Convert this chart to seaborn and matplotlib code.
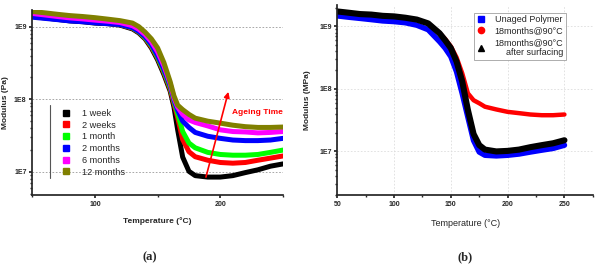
import numpy as np
import pandas as pd
import matplotlib
matplotlib.use('Agg')
import matplotlib.pyplot as plt
import matplotlib.ticker as mticker
from matplotlib.lines import Line2D
import seaborn as sns

# ---------------- data: panel (a) ageing series ----------------
temp_a = [50, 60, 70, 80, 90, 100, 110, 120, 130, 135, 140, 145, 150, 155, 160,
          163, 166, 170, 175, 180, 190, 200, 210, 220, 230, 240, 250]

week1 = [1.38e9, 1.32e9, 1.26e9, 1.20e9, 1.17e9, 1.12e9, 1.10e9, 1.05e9, 9.3e8, 8.2e8, 6.8e8,
         5.1e8, 3.5e8, 2.2e8, 1.3e8, 7.9e7, 3.8e7, 1.6e7, 1.02e7, 8.9e6, 8.5e6,
         8.5e6, 8.9e6, 9.8e6, 1.07e7, 1.2e7, 1.29e7]
weeks2 = [1.42e9, 1.35e9, 1.29e9, 1.23e9, 1.20e9, 1.15e9, 1.12e9, 1.07e9, 9.5e8, 8.4e8, 7.0e8,
          5.3e8, 3.7e8, 2.35e8, 1.38e8, 8.9e7, 5.6e7, 2.8e7, 1.9e7, 1.62e7, 1.45e7,
          1.35e7, 1.32e7, 1.35e7, 1.45e7, 1.55e7, 1.66e7]
month1 = [1.43e9, 1.36e9, 1.30e9, 1.24e9, 1.20e9, 1.15e9, 1.12e9, 1.08e9, 9.6e8, 8.5e8, 7.1e8,
          5.5e8, 3.8e8, 2.45e8, 1.45e8, 9.5e7, 6.3e7, 3.6e7, 2.5e7, 2.15e7, 1.86e7,
          1.74e7, 1.7e7, 1.7e7, 1.74e7, 1.86e7, 2.0e7]
months2 = [1.35e9, 1.30e9, 1.25e9, 1.20e9, 1.17e9, 1.13e9, 1.10e9, 1.07e9, 9.7e8, 8.6e8, 7.3e8,
           5.7e8, 4.0e8, 2.6e8, 1.55e8, 1.0e8, 7.1e7, 5.0e7, 4.1e7, 3.5e7, 3.1e7,
           2.9e7, 2.75e7, 2.7e7, 2.7e7, 2.75e7, 2.9e7]
months6 = [1.52e9, 1.45e9, 1.38e9, 1.32e9, 1.28e9, 1.23e9, 1.19e9, 1.14e9, 1.03e9, 9.2e8, 7.8e8,
           6.2e8, 4.5e8, 2.9e8, 1.65e8, 1.05e8, 7.8e7, 6.2e7, 5.2e7, 4.8e7, 4.3e7,
           3.8e7, 3.6e7, 3.55e7, 3.45e7, 3.5e7, 3.6e7]
months12 = [1.62e9, 1.55e9, 1.48e9, 1.42e9, 1.38e9, 1.33e9, 1.27e9, 1.21e9, 1.12e9, 1.0e9, 8.4e8,
            6.8e8, 5.1e8, 3.2e8, 1.75e8, 1.12e8, 8.3e7, 7.2e7, 6.2e7, 5.5e7, 5.0e7,
            4.7e7, 4.4e7, 4.2e7, 4.1e7, 4.1e7, 4.15e7]

labels_a = ['1 week', '2 weeks', '1 month', '2 months', '6 months', '12 months']
colors_a = ['#000000', '#ff0000', '#00ff00', '#0000ff', '#ff00ff', '#808000']

# ---------------- data: panel (b) ----------------
temp_b = [50, 60, 70, 80, 90, 100, 110, 120, 130, 140, 145, 150, 155, 160,
          165, 170, 175, 180, 190, 200, 210, 220, 230, 240, 250]

aged18 = [1.66e9, 1.58e9, 1.51e9, 1.48e9, 1.41e9, 1.38e9, 1.32e9, 1.26e9, 1.12e9, 7.9e8,
          6.3e8, 4.8e8, 3.2e8, 1.78e8, 8.5e7, 6.6e7, 5.9e7, 5.2e7, 4.7e7, 4.3e7,
          4.1e7, 3.9e7, 3.8e7, 3.8e7, 3.9e7]
unaged = [1.48e9, 1.41e9, 1.35e9, 1.29e9, 1.23e9, 1.20e9, 1.15e9, 1.05e9, 8.9e8, 5.75e8,
          4.5e8, 3.3e8, 1.9e8, 8.5e7, 3.55e7, 1.5e7, 9.8e6, 8.7e6, 8.5e6, 8.7e6,
          9.1e6, 9.8e6, 1.05e7, 1.12e7, 1.26e7]
surfaced = [1.74e9, 1.66e9, 1.58e9, 1.55e9, 1.48e9, 1.45e9, 1.38e9, 1.29e9, 1.12e9, 7.8e8,
            6.0e8, 4.5e8, 2.75e8, 1.32e8, 4.6e7, 1.9e7, 1.26e7, 1.07e7, 1.0e7, 1.02e7,
            1.07e7, 1.17e7, 1.26e7, 1.35e7, 1.51e7]

labels_b = ['Unaged Polymer', '18months@90°C', '18months@90°C\nafter surfacing']
colors_b = ['#0000ff', '#ff0000', '#000000']
markers_b = ['s', 'o', '^']

# ---------------- style ----------------
sns.set_theme(style='ticks')
plt.rcParams['font.family'] = ['Liberation Sans', 'DejaVu Sans']
plt.rcParams['xtick.major.size'] = 2.5
plt.rcParams['ytick.major.size'] = 2.5
plt.rcParams['xtick.minor.size'] = 1.5
plt.rcParams['ytick.minor.size'] = 1.5

fig = plt.figure(figsize=(5.97, 2.68), dpi=100)
ax_a = fig.add_axes([0.054, 0.272, 0.420, 0.691])
ax_b = fig.add_axes([0.565, 0.272, 0.428, 0.709])

# ---------------- panel (a) ----------------
df_a = pd.DataFrame({
    'Temperature': temp_a * 6,
    'Modulus': week1 + weeks2 + month1 + months2 + months6 + months12,
    'Age': sum([[lab] * len(temp_a) for lab in labels_a], []),
})
sns.lineplot(data=df_a, x='Temperature', y='Modulus', hue='Age',
             hue_order=labels_a, palette=colors_a, linewidth=3.6,
             legend=False, ax=ax_a)
ax_a.set_yscale('log')
ax_a.set_xlim(50, 250)
ax_a.set_ylim(4.8e6, 1.7e9)
ax_a.set_xticks([100, 200])
ax_a.xaxis.set_minor_locator(mticker.MultipleLocator(50))
ax_a.yaxis.set_major_locator(mticker.FixedLocator([1e7, 1e8, 1e9]))
ax_a.yaxis.set_major_formatter(mticker.FuncFormatter(lambda v, p: f'1E{int(round(np.log10(v)))}'))
ax_a.yaxis.set_minor_formatter(mticker.NullFormatter())
ax_a.tick_params(labelsize=5, pad=1.5)
ax_a.grid(axis='y', which='major', color='#999999', linestyle=(0, (2, 2)), linewidth=0.6)
ax_a.set_xlabel('Temperature (°C)', fontsize=6, fontweight='bold', labelpad=7)
ax_a.set_ylabel('Modulus (Pa)', fontsize=6, fontweight='bold', labelpad=4)
sns.despine(ax=ax_a)

handles_a = [Line2D([], [], marker='s', linestyle='none', color=c, markersize=4)
             for c in colors_a]
leg_a = ax_a.legend(handles_a, labels_a, loc='upper left', bbox_to_anchor=(0.1, 0.485),
                    frameon=False, fontsize=6.6, handlelength=1.0, handletextpad=1.3,
                    labelspacing=0.3, borderaxespad=0)
ax_a.plot([0.072, 0.072], [0.092, 0.486], transform=ax_a.transAxes,
          color='#555555', linewidth=0.8)

ax_a.annotate('', xy=(207, 1.38e8), xytext=(188, 7.8e6),
              arrowprops=dict(arrowstyle='-|>', color='#ff0000', lw=1.2,
                              mutation_scale=8))
ax_a.text(209, 6.6e7, 'Ageing Time', color='#ff0000', fontsize=6,
          fontweight='bold', va='center', ha='left')

# ---------------- panel (b) ----------------
df_b = pd.DataFrame({
    'Temperature': temp_b * 3,
    'Modulus': unaged + aged18 + surfaced,
    'Sample': sum([[lab] * len(temp_b) for lab in labels_b], []),
})
draw_order = [labels_b[1], labels_b[0], labels_b[2]]
widths = {labels_b[0]: 4.0, labels_b[1]: 3.2, labels_b[2]: 4.4}
for lab in draw_order:
    i = labels_b.index(lab)
    sns.lineplot(data=df_b[df_b['Sample'] == lab], x='Temperature', y='Modulus',
                 color=colors_b[i], linewidth=widths[lab], ax=ax_b, legend=False)
ax_b.set_yscale('log')
ax_b.set_xlim(50, 275)
ax_b.set_ylim(2e6, 2.2e9)
ax_b.set_xticks([50, 100, 150, 200, 250])
ax_b.xaxis.set_minor_locator(mticker.MultipleLocator(25))
ax_b.yaxis.set_major_locator(mticker.FixedLocator([1e7, 1e8, 1e9]))
ax_b.yaxis.set_major_formatter(mticker.FuncFormatter(lambda v, p: f'1E{int(round(np.log10(v)))}'))
ax_b.yaxis.set_minor_formatter(mticker.NullFormatter())
ax_b.tick_params(labelsize=5, pad=1.5)
for lbl in ax_b.get_xticklabels() + ax_b.get_yticklabels() + ax_a.get_xticklabels() + ax_a.get_yticklabels():
    lbl.set_fontweight('bold')
ax_b.grid(which='major', color='#dddddd', linestyle=(0, (2, 2)), linewidth=0.6)
ax_b.set_xlabel('Temperature (°C)', fontsize=6.5, labelpad=8)
ax_b.set_ylabel('Modulus (MPa)', fontsize=6, fontweight='bold', labelpad=6)
sns.despine(ax=ax_b)

handles_b = [Line2D([], [], marker=m, linestyle='none', color=c, markersize=4.5)
             for m, c in zip(markers_b, colors_b)]
leg_b = ax_b.legend(handles_b, labels_b, loc='upper left', bbox_to_anchor=(0.535, 0.96),
                    frameon=True, fancybox=False, edgecolor='#888888', fontsize=6.5,
                    handlelength=1.0, handletextpad=1.0, labelspacing=0.25,
                    borderpad=0.3, borderaxespad=0)
leg_b.get_frame().set_linewidth(0.6)
for t in leg_b.get_texts():
    t.set_multialignment('right')

# ---------------- captions ----------------
fig.text(0.251, 0.04, '(a)', fontsize=9, fontweight='bold', family='Liberation Serif',
         ha='center', va='center')
fig.text(0.779, 0.04, '(b)', fontsize=9, fontweight='bold', family='Liberation Serif',
         ha='center', va='center')

fig.savefig('out.png', dpi=100)
